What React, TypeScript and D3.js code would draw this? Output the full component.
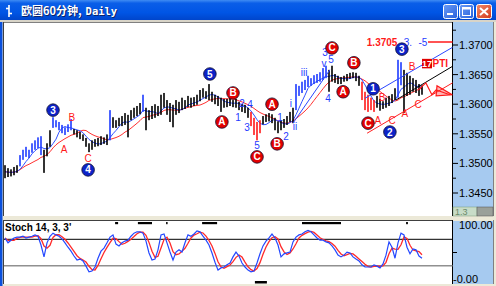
import React from 'react';
import * as d3 from 'd3';

// ---- price bars (EUR/USD 60 min), per bar high / low ----
const high = [
  1.3497, 1.3492, 1.3490, 1.3494, 1.3497, 1.3514, 1.3523, 1.3528, 1.3523, 1.3534,
  1.3539, 1.3544, 1.3546, 1.3523, 1.3534, 1.3556, 1.3578, 1.3573, 1.3570, 1.3565,
  1.3561, 1.3566, 1.3575, 1.3558, 1.3556, 1.3553, 1.3549, 1.3543, 1.3534, 1.3539,
  1.3541, 1.3543, 1.3546, 1.3544, 1.3549, 1.3590, 1.3578, 1.3573, 1.3577, 1.3580,
  1.3585, 1.3582, 1.3590, 1.3594, 1.3597, 1.3602, 1.3616, 1.3594, 1.3590, 1.3597,
  1.3600, 1.3597, 1.3616, 1.3619, 1.3607, 1.3602, 1.3599, 1.3607, 1.3604, 1.3611,
  1.3607, 1.3614, 1.3611, 1.3612, 1.3616, 1.3624, 1.3627, 1.3622, 1.3634, 1.3621,
  1.3616, 1.3614, 1.3611, 1.3609, 1.3609, 1.3611, 1.3607, 1.3609, 1.3604, 1.3600,
  1.3599, 1.3594, 1.3587, 1.3577, 1.3570, 1.3573, 1.3580, 1.3583, 1.3585, 1.3583,
  1.3577, 1.3571, 1.3573, 1.3575, 1.3580, 1.3587, 1.3594, 1.3634, 1.3631, 1.3638,
  1.3641, 1.3648, 1.3644, 1.3649, 1.3651, 1.3654, 1.3661, 1.3665, 1.3658, 1.3665,
  1.3651, 1.3648, 1.3646, 1.3648, 1.3651, 1.3653, 1.3654, 1.3653, 1.3648, 1.3638,
  1.3621, 1.3616, 1.3611, 1.3607, 1.3614, 1.3609, 1.3605, 1.3611, 1.3614, 1.3617,
  1.3627, 1.3675, 1.3671, 1.3658, 1.3653, 1.3648, 1.3644, 1.3641, 1.3634, 1.3632,
];
const low = [
  1.3475, 1.3477, 1.3478, 1.3480, 1.3484, 1.3495, 1.3506, 1.3511, 1.3509, 1.3518,
  1.3523, 1.3526, 1.3514, 1.3484, 1.3512, 1.3528, 1.3560, 1.3561, 1.3556, 1.3551,
  1.3548, 1.3553, 1.3556, 1.3549, 1.3544, 1.3541, 1.3538, 1.3528, 1.3519, 1.3523,
  1.3528, 1.3529, 1.3531, 1.3533, 1.3531, 1.3539, 1.3560, 1.3560, 1.3563, 1.3563,
  1.3565, 1.3544, 1.3573, 1.3577, 1.3580, 1.3583, 1.3587, 1.3556, 1.3573, 1.3575,
  1.3577, 1.3580, 1.3582, 1.3594, 1.3582, 1.3570, 1.3561, 1.3582, 1.3585, 1.3590,
  1.3592, 1.3595, 1.3594, 1.3597, 1.3599, 1.3605, 1.3611, 1.3609, 1.3607, 1.3604,
  1.3600, 1.3597, 1.3587, 1.3594, 1.3595, 1.3597, 1.3595, 1.3594, 1.3590, 1.3587,
  1.3585, 1.3577, 1.3563, 1.3548, 1.3539, 1.3551, 1.3566, 1.3570, 1.3571, 1.3568,
  1.3556, 1.3551, 1.3556, 1.3560, 1.3565, 1.3570, 1.3568, 1.3590, 1.3614, 1.3619,
  1.3624, 1.3629, 1.3631, 1.3634, 1.3636, 1.3638, 1.3641, 1.3644, 1.3621, 1.3638,
  1.3636, 1.3634, 1.3634, 1.3638, 1.3639, 1.3643, 1.3644, 1.3639, 1.3631, 1.3607,
  1.3590, 1.3587, 1.3590, 1.3587, 1.3594, 1.3589, 1.3592, 1.3594, 1.3597, 1.3602,
  1.3607, 1.3611, 1.3632, 1.3585, 1.3614, 1.3616, 1.3621, 1.3619, 1.3614, 1.3616,
];
// bar index ranges drawn in wave colours
const blueRanges = [[5, 12], [16, 22], [35, 35], [46, 46], [97, 107], [131, 132]];
const redRanges = [[82, 85], [119, 123]];

// ---- stochastic %K (14,3,3) per bar ----
const stochK = [
  83, 72, 78, 83, 85, 85, 87, 83, 85, 87, 90, 87, 67, 40, 72, 87, 94, 90, 87, 81,
  72, 62, 53, 42, 33, 35, 31, 19, 6, 8, 17, 37, 53, 60, 72, 85, 90, 69, 65, 72,
  76, 78, 87, 94, 97, 97, 94, 76, 49, 33, 35, 56, 90, 92, 72, 51, 33, 51, 56, 51,
  72, 90, 87, 92, 99, 97, 87, 78, 67, 49, 28, 10, 15, 17, 22, 26, 40, 51, 42, 26,
  17, 10, 6, 8, 26, 47, 65, 76, 83, 92, 83, 67, 40, 47, 49, 51, 74, 85, 90, 92,
  97, 100, 97, 90, 83, 78, 78, 74, 72, 65, 56, 44, 40, 44, 51, 49, 40, 35, 31, 22,
  17, 17, 17, 22, 19, 15, 24, 44, 74, 62, 37, 72, 94, 90, 62, 47, 58, 56, 42, 37,
];
const stochTopMarks = [[36.7, 37.7], [44.3, 49], [53.7, 54.2], [65.7, 70.7], [99, 112], [133.7, 134.3]];
const stochBottomMarks = [[83.3, 87.3]];

// ---- axis ticks ----
const priceTicks = [1.345, 1.35, 1.355, 1.36, 1.365, 1.37];
const priceMinor = [1.3475, 1.3525, 1.3575, 1.3625, 1.3675, 1.3725];
const stochLevels = [20, 80];

// ---- wave annotations ----
const circleLabels = [
  { i: 16, p: 1.3590, t: '3', c: 'b' },
  { i: 27.7, p: 1.3489, t: '4', c: 'b' },
  { i: 68.3, p: 1.3651, t: '5', c: 'b' },
  { i: 72.3, p: 1.3570, t: 'A', c: 'r' },
  { i: 76, p: 1.3619, t: 'B', c: 'r' },
  { i: 84, p: 1.3511, t: 'C', c: 'r' },
  { i: 89, p: 1.3600, t: 'A', c: 'r' },
  { i: 90.7, p: 1.3533, t: 'B', c: 'r' },
  { i: 109, p: 1.3695, t: 'C', c: 'r' },
  { i: 112.7, p: 1.3621, t: 'A', c: 'r' },
  { i: 116.3, p: 1.3670, t: 'B', c: 'r' },
  { i: 121, p: 1.3568, t: 'C', c: 'r' },
  { i: 122.7, p: 1.3626, t: '1', c: 'b' },
  { i: 128.3, p: 1.3553, t: '2', c: 'b' },
  { i: 132.3, p: 1.3693, t: '3', c: 'b' },
];
const blueTexts = [
  { i: 77.7, p: 1.3578, t: '1' }, { i: 79, p: 1.3602, t: '2' }, { i: 80.7, p: 1.3560, t: '3' },
  { i: 81.7, p: 1.3600, t: '4' }, { i: 84, p: 1.3531, t: '5' }, { i: 91.7, p: 1.3578, t: '1' },
  { i: 93.7, p: 1.3546, t: '2' }, { i: 95.3, p: 1.3602, t: 'i' }, { i: 96.7, p: 1.3563, t: 'ii' },
  { i: 99.7, p: 1.3653, t: 'iii' }, { i: 106.7, p: 1.3688, t: '3' }, { i: 106.3, p: 1.3668, t: 'v' },
  { i: 108.7, p: 1.3675, t: '5' }, { i: 107.7, p: 1.3610, t: '4' },
  { i: 134.3, p: 1.3705, t: '3.' }, { i: 139.3, p: 1.3705, t: '-5' },
];
const redTexts = [
  { i: 19.7, p: 1.3524, t: 'A' }, { i: 22.3, p: 1.3578, t: 'B' }, { i: 27.7, p: 1.3509, t: 'C' },
  { i: 124.3, p: 1.3573, t: 'A' }, { i: 125.7, p: 1.3612, t: 'B' }, { i: 129, p: 1.3573, t: 'C' },
  { i: 133.3, p: 1.3585, t: 'A' }, { i: 135.7, p: 1.3663, t: 'B' }, { i: 137.7, p: 1.3599, t: 'C' },
];
const targetPrice = 1.3705;
const targetLabel = { i: 125.7, t: '1.3705' };
const targetLine = [141, 150];
const ptiBox = { i: 139, p: 1.3669, t: '17', label: 'PTI' };
const trendLines = [
  { c: '#2a46ff', pts: [[120, 1.3610], [149.5, 1.3697]] },
  { c: '#000000', pts: [[130.3, 1.3607], [149.5, 1.3665]] },
  { c: '#ff2020', pts: [[120.7, 1.3551], [149.5, 1.3637]] },
  { c: '#2a46ff', pts: [[96, 1.3568], [108.3, 1.3658]] },
];
const zigzag = [[137.7, 1.3624], [140.3, 1.3636], [142.3, 1.3616], [143.7, 1.3624], [148.3, 1.3616]];
const arrowHead = [[144, 1.3631], [149, 1.3616], [143.7, 1.3614]];

const BLUE = '#1f3cff';
const RED = '#ff1a1a';

function inRanges(i: number, rs: number[][]) {
  return rs.some(([a, b]) => i >= a && i <= b);
}

export default function App() {
  const x = d3.scaleLinear().domain([0, 149]).range([5, 452]);
  const y = d3.scaleLinear().domain([1.345, 1.37]).range([193, 45]);
  const sy = d3.scaleLinear().domain([0, 100]).range([274.5, 230.5]);

  const mid = high.map((h, i) => (h + low[i]) / 2);
  const sma = (arr: number[], n: number) =>
    arr.map((_, i) => d3.mean(arr.slice(Math.max(0, i - n + 1), i + 1)) as number);
  const maFast = sma(mid, 5);
  const maSlow = sma(mid, 12);
  const stochD = sma(stochK, 3);

  const priceLine = d3.line<number>().x((_, i) => x(i)).y((d) => y(d));
  const stochLine = d3.line<number>().x((_, i) => x(i)).y((d) => sy(d));
  const ptLine = d3.line<number[]>().x((d) => x(d[0])).y((d) => y(d[1]));

  const mono = 'Liberation Sans, Arial, sans-serif';

  return (
    <div style={{ position: 'absolute', left: 0, top: 0 }}>
      <svg width={496} height={286} style={{ display: 'block' }}>
        <defs>
          <linearGradient id="tb" x1="0" y1="0" x2="0" y2="1">
            <stop offset="0" stopColor="#3f8cf3" />
            <stop offset="0.15" stopColor="#0a5ee8" />
            <stop offset="0.6" stopColor="#0055e5" />
            <stop offset="1" stopColor="#0043c8" />
          </linearGradient>
          <linearGradient id="btn" x1="0" y1="0" x2="1" y2="1">
            <stop offset="0" stopColor="#6a9cf6" />
            <stop offset="1" stopColor="#2a62dc" />
          </linearGradient>
          <linearGradient id="cls" x1="0" y1="0" x2="1" y2="1">
            <stop offset="0" stopColor="#f08a6a" />
            <stop offset="1" stopColor="#d2381a" />
          </linearGradient>
          <clipPath id="mainClip">
            <rect x={4} y={23} width={448.5} height={193} />
          </clipPath>
          <clipPath id="stochClip">
            <rect x={4} y={221} width={448.5} height={63} />
          </clipPath>
          <clipPath id="saxClip">
            <rect x={453} y={221} width={40} height={63} />
          </clipPath>
        </defs>

        {/* window frame */}
        <rect x={0} y={0} width={496} height={286} fill="#ece9d8" />
        <rect x={0} y={0} width={496} height={21} fill="url(#tb)" />
        <rect x={0} y={21} width={2.5} height={265} fill="#0a50dc" />
        <rect x={0} y={20} width={496} height={2} fill="#d8d4c8" />

        {/* title icon and text */}
        <g stroke="#fff" strokeWidth={1.6}>
          <line x1={9} y1={5} x2={9} y2={17} />
          <line x1={6} y1={8.5} x2={9} y2={8.5} />
          <line x1={9} y1={13.5} x2={12} y2={13.5} />
        </g>
        <text x={22} y={15.5} fill="#0a246a" fontSize={11} fontWeight="bold"
          fontFamily="Noto Sans CJK SC, sans-serif">
          欧圆60分钟,<tspan dx={4} fontFamily="DejaVu Sans Mono, monospace" fontSize={10.5}>Daily</tspan>
        </text>
        <text x={21} y={14.5} fill="#ffffff" fontSize={11} fontWeight="bold"
          fontFamily="Noto Sans CJK SC, sans-serif">
          欧圆60分钟,<tspan dx={4} fontFamily="DejaVu Sans Mono, monospace" fontSize={10.5}>Daily</tspan>
        </text>

        {/* window buttons */}
        <rect x={443.5} y={4.5} width={14} height={14} rx={2} fill="url(#btn)" stroke="#fff" />
        <rect x={447} y={13} width={6} height={2} fill="#fff" />
        <rect x={459.5} y={4.5} width={14} height={14} rx={2} fill="url(#btn)" stroke="#fff" />
        <rect x={462.5} y={7.5} width={8} height={8} fill="none" stroke="#fff" />
        <rect x={462.5} y={7.5} width={8} height={2} fill="#fff" />
        <rect x={476.5} y={4.5} width={15} height={14} rx={2} fill="url(#cls)" stroke="#fff" />
        <g stroke="#fff" strokeWidth={2}>
          <line x1={480} y1={8} x2={488} y2={15} />
          <line x1={488} y1={8} x2={480} y2={15} />
        </g>

        {/* main panel */}
        <rect x={3} y={22} width={450} height={194} fill="#fff" />
        <line x1={3} y1={22.5} x2={453} y2={22.5} stroke="#808080" />
        <line x1={3.5} y1={22} x2={3.5} y2={216} stroke="#404040" />
        <rect x={453} y={22} width={40} height={194} fill="#a6caf0" />
        <line x1={452.5} y1={22} x2={452.5} y2={216} stroke="#000" />
        <line x1={493.5} y1={22} x2={493.5} y2={216} stroke="#808080" />

        {/* price axis */}
        {priceMinor.map((p) => (
          <line key={'m' + p} x1={453} x2={456} y1={y(p)} y2={y(p)} stroke="#000" />
        ))}
        {priceTicks.map((p) => (
          <g key={'t' + p}>
            <line x1={453} x2={458} y1={y(p)} y2={y(p)} stroke="#000" />
            <text x={459} y={y(p) + 4} fontSize={11} fontFamily={mono} fill="#000">
              {p.toFixed(4)}
            </text>
          </g>
        ))}
        <rect x={453} y={207} width={24} height={9} fill="#c8dcc8" stroke="#7a9a7a" strokeWidth={0.5} />
        <text x={455} y={215} fontSize={9} fontFamily={mono} fill="#6a8a6a">1.3</text>
        <rect x={477} y={207} width={16} height={9} fill="#9aa09a" stroke="#505050" strokeWidth={0.5} />

        {/* price content */}
        <g clipPath="url(#mainClip)">
          <path d={priceLine(maSlow) || ''} fill="none" stroke="#ff3030" strokeWidth={1} />
          <path d={priceLine(maFast) || ''} fill="none" stroke="#3050ff" strokeWidth={1} />
          {high.map((h, i) => {
            const col = inRanges(i, blueRanges) ? BLUE : inRanges(i, redRanges) ? RED : '#000';
            return (
              <rect key={i} x={x(i) - 0.8} y={y(h)} width={1.6} height={Math.max(1, y(low[i]) - y(h))} fill={col} />
            );
          })}
          {trendLines.map((l, k) => (
            <path key={k} d={ptLine(l.pts) || ''} fill="none" stroke={l.c} strokeWidth={1} />
          ))}
          <path d={ptLine(zigzag) || ''} fill="none" stroke={RED} strokeWidth={1.2} />
          <path d={(ptLine(arrowHead) || '') + 'Z'} fill="rgba(255,40,40,0.35)" stroke={RED} strokeWidth={1.2} />
          <line x1={x(targetLine[0])} x2={x(targetLine[1])} y1={y(targetPrice)} y2={y(targetPrice)}
            stroke={RED} strokeWidth={1.5} />
          <text x={x(targetLabel.i)} y={y(targetPrice) + 4} textAnchor="middle" fontSize={10}
            fontWeight="bold" fontFamily={mono} fill={RED}>{targetLabel.t}</text>
          <rect x={x(ptiBox.i)} y={y(ptiBox.p) - 4.5} width={10} height={9.5} fill="#e00000" />
          <text x={x(ptiBox.i) + 5} y={y(ptiBox.p) + 3.5} textAnchor="middle" fontSize={9}
            fontWeight="bold" fontFamily={mono} fill="#fff">{ptiBox.t}</text>
          <text x={x(ptiBox.i) + 10.5} y={y(ptiBox.p) + 4} fontSize={10}
            fontWeight="bold" fontFamily={mono} fill={RED}>{ptiBox.label}</text>
          {blueTexts.map((d, k) => (
            <text key={'bt' + k} x={x(d.i)} y={y(d.p) + 3.5} textAnchor="middle" fontSize={10}
              fontFamily={mono} fill={BLUE}>{d.t}</text>
          ))}
          {redTexts.map((d, k) => (
            <text key={'rt' + k} x={x(d.i)} y={y(d.p) + 3.5} textAnchor="middle" fontSize={10}
              fontFamily={mono} fill={RED}>{d.t}</text>
          ))}
          {circleLabels.map((d, k) => (
            <g key={'c' + k}>
              <circle cx={x(d.i)} cy={y(d.p)} r={6.3} fill={d.c === 'b' ? '#0c22c8' : '#e30000'}
                stroke="#101030" strokeWidth={0.8} />
              <text x={x(d.i)} y={y(d.p) + 3.5} textAnchor="middle" fontSize={10} fontWeight="bold"
                fontFamily={mono} fill="#fff">{d.t}</text>
            </g>
          ))}
        </g>

        {/* stochastic panel */}
        <rect x={3} y={220} width={450} height={64} fill="#fff" />
        <line x1={3} y1={220.5} x2={453} y2={220.5} stroke="#404040" />
        <line x1={3.5} y1={220} x2={3.5} y2={284} stroke="#404040" />
        <rect x={453} y={221} width={40} height={63} fill="#a6caf0" />
        <line x1={452.5} y1={220} x2={452.5} y2={284} stroke="#000" />
        <line x1={493.5} y1={220} x2={493.5} y2={284} stroke="#808080" />
        <g clipPath="url(#saxClip)">
          <text x={459} y={sy(100) - 2} fontSize={11} fontFamily={mono} fill="#000">100.00</text>
        </g>
        <line x1={453} x2={457} y1={sy(50)} y2={sy(50)} stroke="#000" />
        <text x={453} y={sy(0) + 8.5} fontSize={11} fontFamily={mono} fill="#000">-0.00</text>
        <g clipPath="url(#stochClip)">
          <line x1={4} x2={453} y1={sy(stochLevels[1])} y2={sy(stochLevels[1])} stroke="#000" strokeWidth={1} />
          <line x1={4} x2={453} y1={sy(stochLevels[0])} y2={sy(stochLevels[0])} stroke="#909090" strokeWidth={1.5} />
          <path d={stochLine(stochD) || ''} fill="none" stroke="#ff2a2a" strokeWidth={1.3} />
          <path d={stochLine(stochK) || ''} fill="none" stroke="#2448ff" strokeWidth={1.2} />
          {stochTopMarks.map(([a, b], k) => (
            <rect key={'tm' + k} x={x(a)} y={222} width={Math.max(1.5, x(b) - x(a))} height={2.2} fill="#000" />
          ))}
          {stochBottomMarks.map(([a, b], k) => (
            <rect key={'bm' + k} x={x(a)} y={281} width={x(b) - x(a)} height={2.5} fill="#000" />
          ))}
          <text x={5} y={231} fontSize={10} fontWeight="bold" fontFamily={mono} fill="#000">
            Stoch 14, 3, 3'
          </text>
        </g>
      </svg>
    </div>
  );
}
